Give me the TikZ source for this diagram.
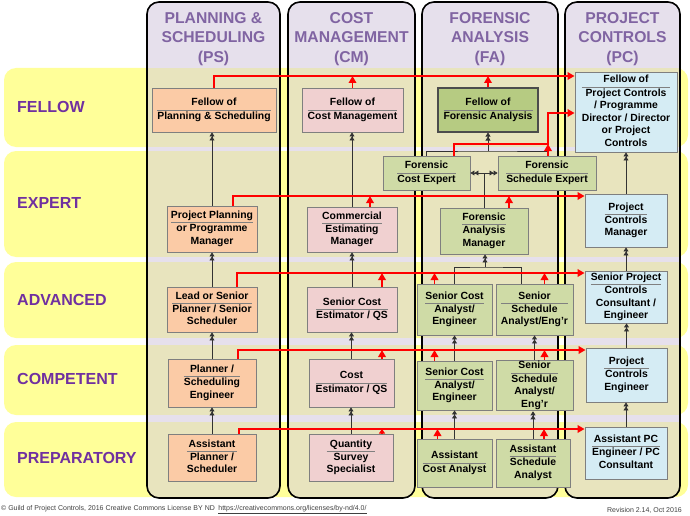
\documentclass[tikz,border=0pt]{standalone}
\usepackage{fontspec}
\setmainfont{Liberation Sans}
\usepackage{colortbl}
\usetikzlibrary{arrows.meta}
\definecolor{bandY}{HTML}{FFFF99}
\definecolor{lav}{HTML}{E6E0EC}
\definecolor{tanc}{HTML}{E8E4BE}
\definecolor{hdrc}{HTML}{8064A2}
\definecolor{rowc}{HTML}{7030A0}
\definecolor{psc}{HTML}{FBCBA6}
\definecolor{cmc}{HTML}{F0D0D0}
\definecolor{fac}{HTML}{CFDBA6}
\definecolor{fafc}{HTML}{B6CB82}
\definecolor{pcc}{HTML}{D5ECF4}
\definecolor{boxb}{HTML}{7F7F7F}
\definecolor{divc}{HTML}{808080}
\definecolor{footc}{HTML}{404040}
\arrayrulecolor{divc}
\setlength{\arrayrulewidth}{0.7pt}
\newcommand\bx[2]{\begin{tabular}{@{}c@{}}#1\\\hline #2\end{tabular}}
\newcommand\gpcboxfont{\fontsize{10.4}{12.5}\selectfont\bfseries}
\begin{document}
\begin{tikzpicture}[x=1pt,y=-1pt,
  box/.style={draw=boxb, line width=0.9pt, inner sep=0pt, font=\gpcboxfont, align=center},
  psb/.style={box, fill=psc},
  cmb/.style={box, fill=cmc},
  fab/.style={box, fill=fac},
  pcb/.style={box, fill=pcc},
  hdr/.style={font=\fontsize{15.7}{19.5}\selectfont\bfseries, text=hdrc, align=center, inner sep=0pt},
  rowlbl/.style={font=\fontsize{16}{18}\selectfont\bfseries, text=rowc, anchor=west, inner sep=0pt},
  foot/.style={font=\fontsize{7}{8}\selectfont, text=footc, inner sep=0pt},
  blk/.style={draw=black!80, line width=0.7pt, -{Triangle[length=4pt,width=5pt]Triangle[length=4pt,width=5pt]}},
  blkn/.style={draw=black!80, line width=0.7pt},
  redA/.style={draw=red, line width=1.8pt, -{Triangle[length=7pt,width=7.5pt]}},
]
\useasboundingbox (0,0) rectangle (690,516);
% bands
\foreach \a/\b in {68/147,151/257,262/338,345/415,422/497}
  \fill[bandY, rounded corners=12pt] (4,\a) rectangle (688,\b);
% columns
\foreach \l/\r in {147/280,288/415,422/558,565/680}{
  \fill[lav, rounded corners=12pt] (\l,2) rectangle (\r,498);
  \begin{scope}
    \clip[rounded corners=12pt] (\l,2) rectangle (\r,498);
    \foreach \a/\b in {68/147,151/257,262/338,345/415,422/497}
      \fill[tanc] (\l,\a) rectangle (\r,\b);
  \end{scope}
  \draw[black, line width=1.6pt, rounded corners=12pt] (\l,2) rectangle (\r,498);
}
% headers
\node[hdr] (hPS) at (213.5,39) {PLANNING \&\\SCHEDULING\\(PS)};
\node[hdr] (hCM) at (351.5,39) {COST\\MANAGEMENT\\(CM)};
\node[hdr] (hFA) at (490,39) {FORENSIC\\ANALYSIS\\(FA)};
\node[hdr] (hPC) at (622.5,39) {PROJECT\\CONTROLS\\(PC)};
% row labels
\node[rowlbl] (lF) at (17,107) {FELLOW};
\node[rowlbl] (lE) at (17,203) {EXPERT};
\node[rowlbl] (lA) at (17,300) {ADVANCED};
\node[rowlbl] (lC) at (17,379) {COMPETENT};
\node[rowlbl] (lP) at (17,458) {PREPARATORY};
% PS boxes
\node[psb, minimum width=124pt, minimum height=44pt] (psF) at (214,110) {\bx{Fellow of}{Planning \& Scheduling}};
\node[psb, minimum width=90pt, minimum height=46pt] (psE) at (212,229) {\bx{Project Planning}{or Programme\\Manager}};
\node[psb, minimum width=90pt, minimum height=45pt] (psA) at (212,309.5) {\bx{Lead or Senior}{Planner / Senior\\Scheduler}};
\node[psb, minimum width=88pt, minimum height=48pt] (psC) at (212,383) {\bx{Planner /}{Scheduling\\Engineer}};
\node[psb, minimum width=88pt, minimum height=47pt] (psP) at (212,457.5) {\bx{Assistant}{Planner /\\Scheduler}};
% CM boxes
\node[cmb, minimum width=101pt, minimum height=44pt] (cmF) at (352.5,110) {\bx{Fellow of}{Cost Management}};
\node[cmb, minimum width=90pt, minimum height=45pt] (cmE) at (352,229.5) {\bx{Commercial}{Estimating\\Manager}};
\node[cmb, minimum width=90pt, minimum height=45pt] (cmA) at (352,309.5) {\bx{Senior Cost}{Estimator / QS}};
\node[cmb, minimum width=85pt, minimum height=48pt] (cmC) at (351.5,383) {\bx{Cost}{Estimator / QS}};
\node[cmb, minimum width=84pt, minimum height=47pt] (cmP) at (351,457.5) {\bx{Quantity}{Survey\\Specialist}};
% FA boxes
\node[box, fill=fafc, draw=black!70, line width=1.1pt, minimum width=100pt, minimum height=44pt] (faF) at (488,110) {\bx{Fellow of}{Forensic Analysis}};
\node[fab, minimum width=87pt, minimum height=34pt] (fce) at (426.5,173) {\bx{Forensic}{Cost Expert}};
\node[fab, minimum width=98pt, minimum height=34pt] (fse) at (547,173) {\bx{Forensic}{Schedule Expert}};
\node[fab, minimum width=88pt, minimum height=46pt] (fam) at (484,231) {\bx{Forensic}{Analysis\\Manager}};
\node[fab, minimum width=75pt, minimum height=51pt] (faA1) at (454.5,309.5) {\bx{Senior Cost}{Analyst/\\Engineer}};
\node[fab, minimum width=77pt, minimum height=51pt] (faA2) at (534.5,309.5) {\bx{Senior}{Schedule\\Analyst/Eng'r}};
\node[fab, minimum width=75pt, minimum height=49pt] (faC1) at (454.5,385.5) {\bx{Senior Cost}{Analyst/\\Engineer}};
\node[fab, minimum width=77pt, minimum height=50pt] (faC2) at (534.5,385.5) {\bx{Senior}{Schedule\\Analyst/\\Eng'r}};
\node[fab, minimum width=75pt, minimum height=48pt] (faP1) at (454.5,463) {\bx{Assistant}{Cost Analyst}};
\node[fab, minimum width=74pt, minimum height=48pt] (faP2) at (533,463) {\bx{Assistant}{Schedule\\Analyst}};
% PC boxes
\node[pcb, minimum width=102pt, minimum height=80pt] (pcF) at (626,112) {\bx{Fellow of}{Project Controls\\/ Programme\\Director / Director\\or Project\\Controls}};
\node[pcb, minimum width=82pt, minimum height=53pt] (pcE) at (626,220.5) {\bx{Project}{Controls\\Manager}};
\node[pcb, minimum width=82pt, minimum height=52pt] (pcA) at (626,297) {\bx{Senior Project}{Controls\\Consultant /\\Engineer}};
\node[pcb, minimum width=81pt, minimum height=54pt] (pcC) at (626.5,375) {\bx{Project}{Controls\\Engineer}};
\node[pcb, minimum width=82pt, minimum height=52pt] (pcP) at (626,453) {\bx{Assistant PC}{Engineer / PC\\Consultant}};
% black connectors
\foreach \lo/\hi in {psP/psC,psC/psA,psA/psE,psE/psF,cmP/cmC,cmC/cmA,cmA/cmE,cmE/cmF,pcP/pcC,pcC/pcA,pcA/pcE,pcE/pcF,faP1/faC1,faP2/faC2,faC1/faA1,faC2/faA2}
  \draw[blk] (\lo.north) -- (\lo.north |- \hi.south);
\coordinate (brA) at (485,267);
\coordinate (brE) at (488,151);
\draw[blkn] (faA1.north) |- (brA) -| ([xshift=-13pt]faA2.north);
\draw[blk] (brA) -- (brA |- fam.south);
\draw[blk] (fam.north) |- (fce.east);
\draw[blk] (fam.north) |- (fse.west);
\draw[blkn] (fce.north) |- (brE) -| (fse.north);
\draw[blk] (brE) -- (brE |- faF.south);
% red lines
\coordinate (r1) at (0,76);
\coordinate (r2) at (0,196);
\coordinate (r3) at (0,273);
\coordinate (r4) at (0,350);
\coordinate (r5) at (0,429);
\draw[redA] (psF.north) |- (pcF.west |- r1);
\draw[redA] (cmF.north) -- (cmF.north |- r1);
\draw[redA] (faF.north) -- (faF.north |- r1);
% expert
\path ([xshift=21pt]psE.north) coordinate (psEr) ([xshift=18pt]cmE.north) coordinate (cmEr) ([xshift=25pt]fam.north) coordinate (famr);
\draw[redA] (psEr) |- (pcE.west |- r2);
\draw[redA] (cmEr) -- (cmEr |- r2);
\draw[redA] (famr) -- (famr |- r2);
\path ([xshift=27.5pt]fce.north) coordinate (fcer);
\coordinate (rj) at (548,144);
\coordinate (rk) at (548,113);
\draw[redA] (fcer) |- (rj) |- (pcF.west |- rk);
\draw[redA] (fse.north -| rj) -- (rj);
% advanced
\path ([xshift=25pt]psA.north) coordinate (psAr) ([xshift=30pt]cmA.north) coordinate (cmAr) ([xshift=-20pt]faA1.north) coordinate (faA1r) ([xshift=10pt]faA2.north) coordinate (faA2r);
\draw[redA] (psAr) |- (pcA.west |- r3);
\draw[redA] (cmAr) -- (cmAr |- r3);
\draw[redA] (faA1r) -- (faA1r |- r3);
\draw[redA] (faA2r) -- (faA2r |- r3);
% competent
\path ([xshift=26pt]psC.north) coordinate (psCr) ([xshift=30.5pt]cmC.north) coordinate (cmCr) ([xshift=-20pt]faC1.north) coordinate (faC1r) ([xshift=10pt]faC2.north) coordinate (faC2r);
\draw[redA] (psCr) |- (pcC.west |- r4);
\draw[redA] (cmCr) -- (cmCr |- r4);
\draw[redA] (faC1r) -- (faC1r |- r4);
\draw[redA] (faC2r) -- (faC2r |- r4);
% preparatory
\path ([xshift=27pt]psP.north) coordinate (psPr) ([xshift=31pt]cmP.north) coordinate (cmPr) ([xshift=-17pt]faP1.north) coordinate (faP1r) ([xshift=11pt]faP2.north) coordinate (faP2r);
\draw[redA] (psPr) |- (pcP.west |- r5);
\draw[draw=red, line width=1.8pt, -{Triangle[length=4.5pt,width=6pt]}] (cmPr) -- (cmPr |- r5);
\draw[redA] (faP1r) -- (faP1r |- r5);
\draw[redA] (faP2r) -- (faP2r |- r5);
% footer
\node[foot, anchor=west] (ft1) at (1,510) {© Guild of Project Controls, 2016 Creative Commons License BY ND\enspace \underline{https://creativecommons.org/licenses/by-nd/4.0/}};
\node[foot, anchor=east] (ft2) at (682,510) {Revision 2.14, Oct 2016};
\end{tikzpicture}
\end{document}
